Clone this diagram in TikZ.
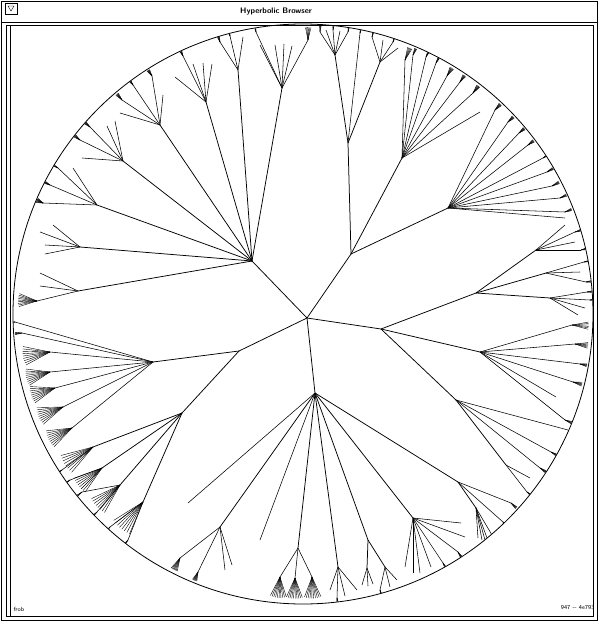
\documentclass[tikz,border=0pt]{standalone}
\usepackage{tikz}

% 从圆心向外的一簇短线
\newcommand\tuft[3]{%
  \pgfmathsetmacro\tdir{atan2(#2-314,#1-303)}%
  \pgfmathsetmacro\tlen{max(7,0.8*(290-veclen(#1-303,#2-314)))}%
  \foreach \k in {1,...,#3}{%
    \draw[twig] (#1,#2) -- ++({\tdir+(\k-(#3+1)/2)*5}:\tlen);}%
}
% 子节点: x/y/簇数
\newcommand\kids[2]{%
  \foreach \x/\y/\n [count=\i] in {#2}{%
    \coordinate (#1-\i) at (\x,\y);
    \draw[edge] (#1) -- (#1-\i);
    \ifnum\n>0 \tuft{\x}{\y}{\n}\fi
  }}

\begin{document}
\begin{tikzpicture}[x=1pt,y=-1pt,
    edge/.style={line width=0.55pt},
    trunk/.style={line width=0.75pt},
    twig/.style={line width=0.4pt},
    frame/.style={line width=0.9pt}
]
    \useasboundingbox (0,0) rectangle (598,621);

    % window
    \draw[frame] (1,1) rectangle (597,620);
    \draw[frame] (1,22) -- (597,22);
    \draw[frame] (6,25) rectangle (593,616);
    \draw[line width=0.6pt] (10,25) -- (10,616);
    \draw (5,3) rectangle (17,14);
    \draw (8,6) -- (14,6) -- (11,11) -- cycle;
    \node[font=\sffamily\bfseries\fontsize{8}{8}\selectfont] (title) at (276,12) {Hyperbolic Browser};
    \node[anchor=west,font=\sffamily\fontsize{6}{6}\selectfont] (frob) at (10,609) {frob};
    \node[anchor=east,font=\sffamily\fontsize{6}{6}\selectfont] (count) at (598,608) {947 -{}- 4e793};

    % disc
    \coordinate (O) at (303,314);
    \draw[line width=0.8pt] (O) circle[radius=290];

    \begin{scope}
    \clip (O) circle[radius=289.5];
    % inner nodes
    \coordinate (R) at (307,318);
    \coordinate (A) at (252,261);
    \coordinate (B) at (351,254);
    \coordinate (C) at (381,329);
    \coordinate (D) at (315,393);
    \coordinate (E) at (239,351);
    \coordinate (A1) at (78,291);
    \coordinate (A2) at (80,247);
    \coordinate (A3) at (97,205);
    \coordinate (A4) at (123,161);
    \coordinate (A5) at (160,125);
    \coordinate (A6) at (206,102);
    \coordinate (A7) at (238,70);
    \coordinate (A8) at (282,88);
    \coordinate (B1) at (348,143);
    \coordinate (B1a) at (335,55);
    \coordinate (B1c) at (380,62);
    \coordinate (B2) at (402,158);
    \coordinate (B3) at (448,208);
    \coordinate (C1) at (476,293);
    \coordinate (C1a) at (536,250);
    \coordinate (C1b) at (546,273);
    \coordinate (C1c) at (550,298);
    \coordinate (C2) at (480,352);
    \coordinate (C3) at (456,400);
    \coordinate (C4) at (506,465);
    \coordinate (D2) at (220,527);
    \coordinate (D4) at (298,548);
    \coordinate (D5) at (338,567);
    \coordinate (D6) at (368,540);
    \coordinate (D6a) at (367,568);
    \coordinate (D6b) at (385,567);
    \coordinate (D7) at (413,518);
    \coordinate (D8) at (458,482);
    \coordinate (D8a) at (476,508);
    \coordinate (E1) at (153,362);
    \coordinate (E2) at (182,413);
    \coordinate (E2a) at (93,447);
    \coordinate (E2b) at (102,468);
    \coordinate (E2c) at (120,485);
    \coordinate (E2d) at (143,502);

    \foreach \p/\c in {R/A,R/B,R/C,R/D,R/E,
        A/A1,A/A2,A/A3,A/A4,A/A5,A/A6,A/A7,A/A8,
        B/B1,B/B2,B/B3,B1/B1a,B1/B1c,
        C/C1,C/C2,C/C3,C3/C4,C1/C1a,C1/C1b,C1/C1c,
        D/D2,D/D4,D/D5,D/D6,D6/D6a,D6/D6b,D/D7,D/D8,D8/D8a,
        E/E1,E/E2,E2/E2a,E2/E2b,E2/E2c,E2/E2d}
        \draw[trunk] (\p) -- (\c);

    % leaves
    \kids{A1}{40/273/0, 40/286/0, 37/301/9}
    \kids{A2}{53/225/0, 40/232/0, 45/245/0, 45/254/0}
    \kids{A3}{73/168/0, 58/168/5, 50/185/6, 43/203/9}
    \kids{A4}{82/158/0, 80/140/6, 90/127/6, 107/126/0, 115/121/0}
    \kids{A5}{120/113/0, 122/100/6, 133/85/6, 152/76/6, 163/95/0}
    \kids{A6}{175/77/0, 183/56/6, 193/64/0, 203/63/0, 212/64/0}
    \kids{A7}{220/42/6, 230/36/6, 243/37/0}
    \kids{A8}{260/45/0, 256/32/5, 275/45/0, 284/44/0, 292/46/0, 308/40/6}
    \kids{B1}{360/33/5}
    \kids{B1a}{320/32/4, 326/30/0, 333/30/4, 340/31/0, 348/32/4}
    \kids{B1c}{372/37/4, 383/40/0, 393/42/5, 398/48/0}
    \kids{B2}{405/60/5, 413/55/5, 426/57/5, 436/63/5, 447/76/6, 460/82/6, 473/93/6, 480/112/0}
    \kids{B3}{495/110/6, 508/122/6, 519/133/6, 528/145/6, 543/158/5, 547/172/5, 552/186/5, 560/198/5, 565/212/5, 565/218/0}
    \kids{C1a}{565/225/0, 575/232/5, 575/242/0, 581/250/5}
    \kids{C1b}{584/262/5, 580/272/0, 586/282/5}
    \kids{C1c}{587/292/5, 590/300/5, 585/308/0, 578/315/0}
    \kids{C2}{572/325/6, 575/344/6, 580/364/6, 573/382/6, 556/397/0, 565/420/5}
    \kids{C3}{568/430/5, 551/452/5, 540/468/5}
    \kids{C4}{530/478/0, 527/492/5}
    \kids{D}{188/503/0, 260/540/0}
    \kids{D2}{180/558/7, 198/572/7, 225/570/0, 232/565/0}
    \kids{D4}{280/577/10, 295/578/10, 312/577/10}
    \kids{D5}{330/590/0, 337/598/5, 345/596/0, 357/590/0}
    \kids{D6a}{362/585/0, 368/586/0, 373/584/0}
    \kids{D6b}{380/590/5, 390/587/0, 397/580/0}
    \kids{D7}{405/567/0, 413/573/0, 420/573/0, 431/567/0, 443/563/5, 458/552/5, 465/537/0, 461/523/0}
    \kids{D8}{511/503/5, 503/522/5}
    \kids{D8a}{478/538/0, 482/540/0, 487/538/0, 492/535/0, 485/540/5}
    \kids{E1}{15/322/5, 22/333/5, 50/352/9, 50/372/9, 55/388/9, 63/407/9, 72/428/9}
    \kids{E2a}{62/470/4}
    \kids{E2b}{70/480/4}
    \kids{E2c}{82/492/4, 97/512/4}
    \kids{E2d}{110/527/4, 128/540/4}
    \tuft{93}{447}{8}
    \tuft{102}{468}{8}
    \tuft{120}{485}{8}
    \tuft{143}{502}{8}
    \end{scope}
\end{tikzpicture}
\end{document}
